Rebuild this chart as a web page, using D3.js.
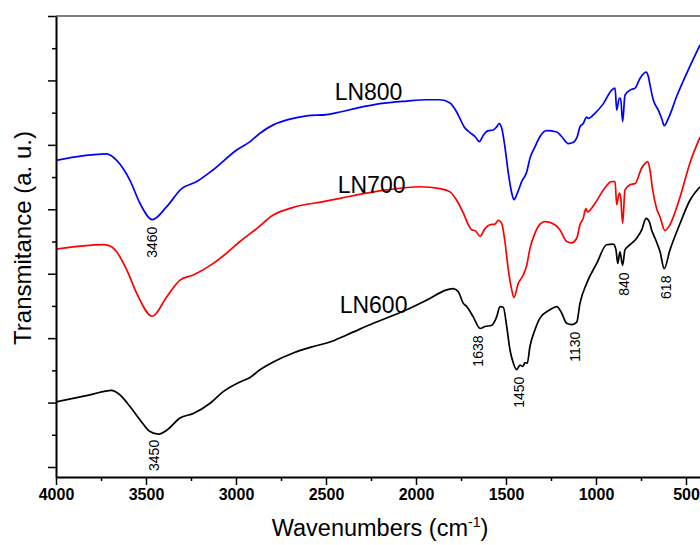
<!DOCTYPE html>
<html><head><meta charset="utf-8">
<script src="https://cdn.jsdelivr.net/npm/d3@7"></script>
<style>
html,body{margin:0;padding:0;background:#fff;}
svg text{font-family:Arial,"Liberation Sans",sans-serif;}
</style></head>
<body>
<svg id="chart" width="700" height="545"></svg>
<script>
// ---- data (wavenumber in cm^-1, transmittance in arbitrary offset units) ----
const wn800 = [4000,3718,3663,3589,3533,3465,3385,3302,3218,3128,2996,2922,2867,2793,2700,2607,2496,2422,2329,2200,2052,1941,1867,1811,1774,1756,1733,1700,1672,1648,1626,1598,1571,1552,1537,1524,1506,1487,1468,1456,1437,1413,1385,1367,1339,1311,1274,1218,1191,1154,1126,1104,1089,1071,1052,1043,1006,959,913,894,885,871,863,852,839,811,783,756,722,709,700,682,654,635,621,598,552,496,422];
const ln800 = [47.6,48.6,47.6,44.5,40.9,38.4,40.4,43.2,44.3,46.1,49.2,50.5,51.8,53.1,54.0,54.5,54.7,55.1,55.7,56.4,56.8,57.0,57.0,56.5,55.1,54.1,52.8,51.9,51.3,50.5,51.5,52.2,52.3,52.8,53.3,52.6,49.7,45.6,42.5,41.5,42.5,44.3,45.8,47.9,49.7,51.3,52.2,52.0,51.3,50.2,50.4,51.3,52.8,53.3,54.3,54.1,54.9,56.4,58.5,58.8,55.4,57.2,57.2,53.6,57.7,58.5,58.8,60.3,61.3,60.6,59.3,57.0,55.4,54.1,53.0,54.1,57.5,61.1,65.5];

const wn700 = [4000,3737,3700,3663,3607,3552,3465,3385,3311,3237,3126,3052,2978,2885,2793,2682,2515,2422,2274,2163,1978,1867,1811,1774,1737,1709,1691,1672,1644,1617,1589,1561,1543,1524,1506,1487,1468,1456,1432,1404,1385,1367,1339,1311,1283,1228,1200,1163,1135,1107,1089,1071,1056,1048,1006,959,913,894,885,871,863,852,839,811,783,746,713,700,685,663,644,617,589,533,478,422];
const ln700 = [33.8,34.5,34.3,33.4,30.6,27.0,23.4,26.4,29.0,29.8,31.6,33.2,35.0,37.0,39.1,40.3,41.2,41.7,42.5,43.0,43.5,43.2,42.7,41.4,39.4,37.6,36.8,36.7,35.8,37.0,37.6,37.7,38.3,37.8,35.0,30.6,27.5,26.3,28.5,29.8,31.3,33.9,36.3,37.7,38.1,37.6,36.8,35.0,34.8,35.5,37.6,38.6,40.1,39.6,40.9,43.0,44.3,44.3,40.7,42.5,41.9,37.8,43.0,43.8,44.0,46.4,47.4,46.1,43.0,40.1,38.8,36.7,37.6,41.9,47.2,51.2];

const wn600 = [4000,3811,3691,3654,3589,3533,3478,3432,3385,3311,3237,3144,3071,2978,2922,2867,2793,2682,2571,2478,2385,2237,2052,1941,1829,1793,1765,1737,1718,1682,1644,1617,1579,1552,1533,1515,1496,1478,1459,1441,1422,1407,1394,1382,1367,1339,1311,1256,1218,1191,1163,1135,1107,1089,1052,996,941,904,889,879,867,852,839,811,774,746,722,704,691,672,644,621,589,533,478,422];
const ln600 = [10.1,11.2,11.9,11.4,9.4,7.3,5.5,5.1,5.7,7.6,8.3,9.9,11.7,13.2,13.9,15.1,16.3,17.7,18.7,19.4,20.5,22.3,24.4,25.9,27.5,27.7,27.2,25.4,24.9,23.3,21.5,21.8,22.0,23.3,24.9,24.8,21.8,18.2,16.1,15.1,15.8,15.6,16.2,16.1,18.7,21.3,23.1,24.4,24.9,23.9,22.3,22.1,22.5,25.4,28.5,31.6,34.5,34.6,33.7,31.6,33.4,31.3,33.7,34.5,35.5,36.8,38.6,38.1,36.8,35.5,33.4,30.8,33.7,37.8,41.4,43.5];

const seriesNames = ["LN800","LN700","LN600"];
const seriesColors = ["#0000ff","#ff0000","#000000"];
const seriesLabelWn = [2452, 2435, 2424];
const seriesLabelVal = [57.0, 42.5, 23.9];

const peakLabels = ["3460","3450","1638","1450","1130","840","618"];
const peakWn = [3465, 3456, 1656, 1428, 1117, 844, 611];
const peakSeries = [0, 2, 2, 2, 2, 2, 2];

const xTickValues = [4000,3500,3000,2500,2000,1500,1000,500];
const xMinorValues = [3750,3250,2750,2250,1750,1250,750];
const yMajorValues = [0,10,20,30,40,50,60,70];
const yMinorValues = [5,15,25,35,45,55,65];

// ---- layout ----
const svg = d3.select("#chart");
const M = {left:56, top:16, right:700, bottom:477};
const x = d3.scaleLinear().domain([4000, 422.2]).range([M.left, M.right]);
const y = d3.scaleLinear().domain([-1.552, 70]).range([M.bottom, M.top]);

svg.append("defs").append("clipPath").attr("id","clip")
  .append("rect").attr("x",M.left).attr("y",M.top).attr("width",M.right-M.left+5).attr("height",M.bottom-M.top);

// top frame line
svg.append("line").attr("x1",M.left).attr("x2",700).attr("y1",M.top).attr("y2",M.top)
  .attr("stroke","#555").attr("stroke-width",1.3);

const series = [
  d3.zip(wn800, ln800),
  d3.zip(wn700, ln700),
  d3.zip(wn600, ln600)
];

const line = d3.line().x(d=>x(d[0])).y(d=>y(d[1])).curve(d3.curveMonotoneX);
const g = svg.append("g").attr("clip-path","url(#clip)");
series.forEach((s,i)=>{
  g.append("path").datum(s).attr("d",line).attr("fill","none")
    .attr("stroke",seriesColors[i]).attr("stroke-width",1.7).attr("stroke-linejoin","round");
});

// axes
const xAxis = d3.axisBottom(x).tickValues(xTickValues).tickSize(8).tickSizeOuter(0).tickFormat(d3.format("d"));
const xg = svg.append("g").attr("transform",`translate(0,${M.bottom})`).call(xAxis);
xg.select(".domain").attr("stroke","#000").attr("stroke-width",2);
xg.selectAll(".tick line").attr("stroke-width",1.5);
xg.selectAll(".tick text").attr("font-size",16).attr("font-weight","bold").attr("dy","0.75em").attr("fill","#000");
const xMinor = d3.axisBottom(x).tickValues(xMinorValues).tickSize(4).tickFormat("");
const xm = svg.append("g").attr("transform",`translate(0,${M.bottom})`).call(xMinor);
xm.select(".domain").remove();
xm.selectAll(".tick line").attr("stroke-width",1.5);

const yAxis = d3.axisLeft(y).tickValues(yMajorValues).tickSize(8).tickSizeOuter(0).tickFormat("");
const yg = svg.append("g").attr("transform",`translate(${M.left},0)`).call(yAxis);
yg.select(".domain").attr("stroke","#000").attr("stroke-width",2);
yg.selectAll(".tick line").attr("stroke-width",1.5);
const yMinor = d3.axisLeft(y).tickValues(yMinorValues).tickSize(4).tickFormat("");
const ym = svg.append("g").attr("transform",`translate(${M.left},0)`).call(yMinor);
ym.select(".domain").remove();
ym.selectAll(".tick line").attr("stroke-width",1.5);

// axis titles
const xt = svg.append("text").attr("x",380).attr("y",536).attr("text-anchor","middle")
  .attr("font-size",23.5).attr("fill","#000");
xt.append("tspan").text("Wavenumbers (cm");
xt.append("tspan").attr("font-size",14).attr("dy","-9").text("-1");
xt.append("tspan").attr("dy","9").text(")");

svg.append("text").attr("transform","translate(31,238) rotate(-90)").attr("text-anchor","middle")
  .attr("font-size",24).attr("fill","#000").text("Transmitance (a. u.)");

// series labels
seriesNames.forEach((n,i)=>{
  svg.append("text").attr("x",x(seriesLabelWn[i])).attr("y",y(seriesLabelVal[i]))
    .attr("font-size",23).attr("fill","#000").text(n);
});

// peak annotations
function valueAt(s, w){
  for(let k=0;k<s.length-1;k++){
    const a=s[k], b=s[k+1];
    if(w<=a[0] && w>=b[0]){ const t=(a[0]-w)/(a[0]-b[0]); return a[1]+t*(b[1]-a[1]); }
  }
  return s[s.length-1][1];
}
peakLabels.forEach((t,i)=>{
  const s = series[peakSeries[i]];
  const w = peakWn[i];
  let vmin = Infinity;
  s.forEach(p=>{ if(Math.abs(p[0]-w)<=20) vmin=Math.min(vmin,p[1]); });
  if(!isFinite(vmin)) vmin = valueAt(s,w);
  const px = x(w), py = y(vmin)+7;
  svg.append("text").attr("transform",`translate(${px},${py}) rotate(-90)`)
    .attr("text-anchor","end").attr("dy","0.35em").attr("font-size",14).attr("fill","#000").text(t);
});
</script>
</body></html>
